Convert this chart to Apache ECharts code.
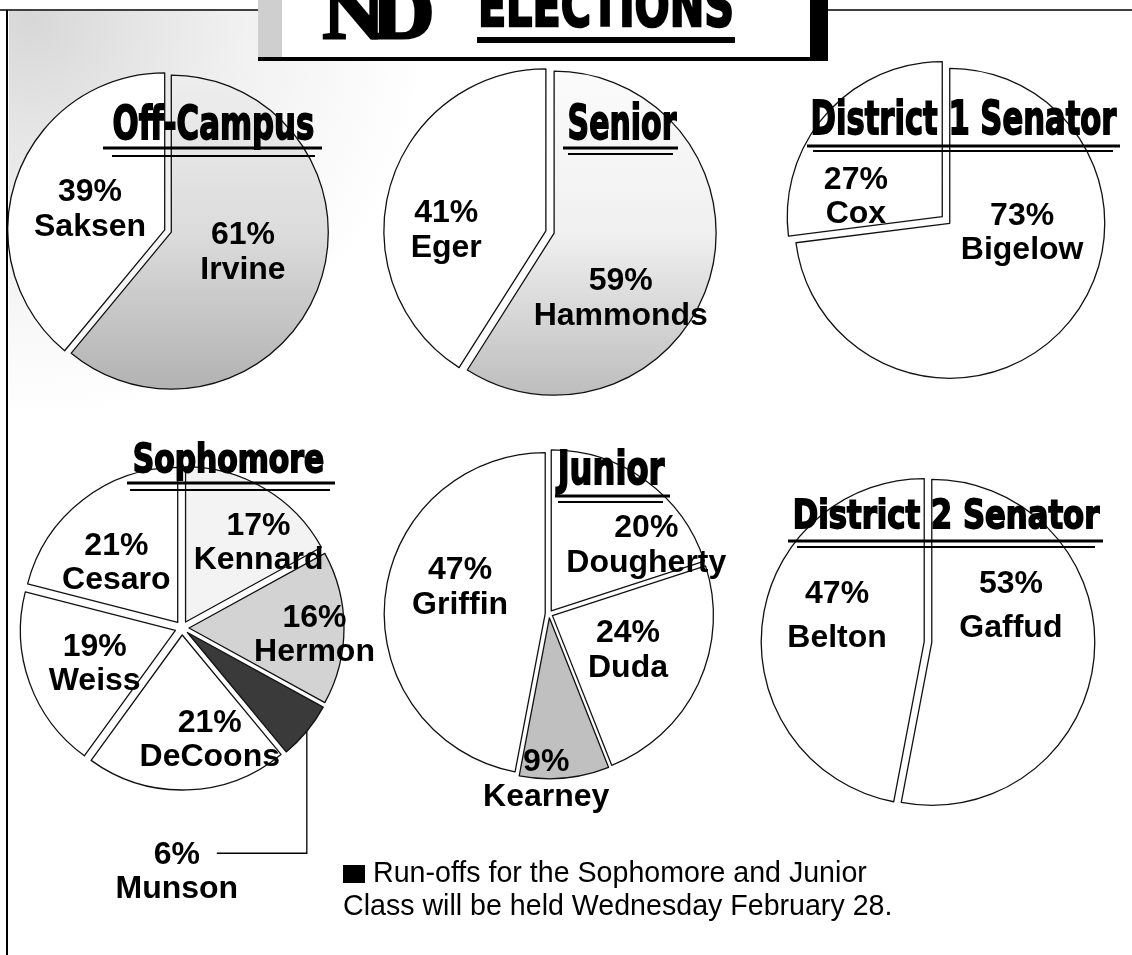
<!DOCTYPE html>
<html><head><meta charset="utf-8">
<script src="https://cdn.jsdelivr.net/npm/echarts@6/dist/echarts.min.js"></script>
<style>html,body{margin:0;padding:0;background:#fff}#c{width:1132px;height:955px}</style>
</head><body><div id="c"></div>
<script>
// ---------------- data ----------------
const offCampusNames = ['Irvine', 'Saksen'];
const offCampusValues = [61, 39];
const seniorNames = ['Hammonds', 'Eger'];
const seniorValues = [59, 41];
const district1Names = ['Bigelow', 'Cox'];
const district1Values = [73, 27];
const sophomoreNames = ['Kennard', 'Hermon', 'Munson', 'DeCoons', 'Weiss', 'Cesaro'];
const sophomoreValues = [17, 16, 6, 21, 19, 21];
const juniorNames = ['Dougherty', 'Duda', 'Kearney', 'Griffin'];
const juniorValues = [20, 24, 9, 47];
const district2Names = ['Gaffud', 'Belton'];
const district2Values = [53, 47];
const raceTitles = ['Off-Campus', 'Senior', 'District 1 Senator', 'Sophomore', 'Junior', 'District 2 Senator'];
const headerTitle = 'ELECTIONS';
const footnoteLines = ['Run-offs for the Sophomore and Junior', 'Class will be held Wednesday February 28.'];

// ---------------- layout / style ----------------
const G = echarts.graphic;
const grayDown = (a, b, c) => new G.LinearGradient(0, 0, 0, 1, [
  {offset: 0, color: a}, {offset: 0.5, color: b}, {offset: 1, color: c}]);

const pieLayout = [
  {center: [168, 231], r: 157, off: 3.5, lh: 35,
   fills: [grayDown('#eeeeee', '#dcdcdc', '#b2b2b2'), '#ffffff'], nudge: [[-5, -7], [2, 7]]},
  {center: [550, 232], r: 162, off: 4.3, lh: 35,
   fills: [grayDown('#fbfbfb', '#f0f0f0', '#bdbdbd'), '#ffffff'], nudge: [[-14, 42], [-19, 23]]},
  {center: [946, 220], r: 155, off: 5, lh: 34,
   fills: ['#ffffff', '#ffffff'], nudge: [[12, -43], [-26, 34]]},
  {center: [182, 628], r: 155, off: 7, lh: 34,
   fills: ['#f3f3f3', '#d3d3d3', '#3a3a3a', '#ffffff', '#ffffff', '#ffffff'],
   nudge: [[32, -10], [45, 7], null, [25, 25], [-5, 7], [-12, 4]]},
  {center: [549, 614], r: 161, off: 3.8, lh: 35,
   fills: ['#ffffff', '#ffffff', '#c0c0c0', '#ffffff'], nudge: [[46, 2], [0, 0], [-11, 79], [-2, -18]]},
  {center: [928, 642], r: 163, off: 3.8, lh: 44,
   fills: ['#ffffff', '#ffffff'], nudge: [[-5, -44], [-3, -18]]}
];
// outside label (Munson): offset of label centre from the slice tip
const outsideLabelShift = [-130, 141];

const titleLayout = [
  {x0: 112, x1: 315, top: 110, base: 145, u1: [103, 322, 148], u2: [112, 315, 156]},
  {x0: 567, x1: 677, top: 108, base: 145, u1: [563, 678, 148], u2: [568, 673, 154]},
  {x0: 810, x1: 1117, top: 105, base: 140, u1: [807, 1120, 146], u2: [813, 1113, 151]},
  {x0: 132, x1: 325, top: 447, base: 477, u1: [127, 335, 483], u2: [130, 330, 490]},
  {x0: 557, x1: 665, top: 455, base: 490, u1: [555, 670, 496], u2: [558, 663, 502]},
  {x0: 792, x1: 1100, top: 503, base: 533, u1: [788, 1103, 541], u2: [797, 1095, 547]}
];

const labelFont = 'Liberation Sans, Arial, Helvetica, sans-serif';
const mctx = document.createElement('canvas').getContext('2d');
function measure(text, font) { mctx.font = font; return mctx.measureText(text).width; }

function squeezedText(text, x0, x1, top, base, family, capRatio, z, strokeW) {
  const sw = strokeW || 0;
  const size = (base - top - sw) / capRatio;
  const font = 'bold ' + size.toFixed(1) + 'px ' + family;
  const w = measure(text, font) + sw;
  const st = {text: text, font: font, fill: '#000', align: 'left', verticalAlign: 'middle',
              textAlign: 'left', textVerticalAlign: 'middle'};
  if (sw) { st.stroke = '#000'; st.lineWidth = sw; st.lineJoin = 'miter'; }
  return {type: 'text', z: z || 100, x: x0 + sw / 2 * (x1 - x0) / w, y: (top + base) / 2,
          scaleX: (x1 - x0) / w, style: st};
}
function hline(x0, x1, y, w, z) {
  return {type: 'line', z: z || 100, shape: {x1: x0, y1: y, x2: x1, y2: y}, style: {stroke: '#000', lineWidth: w}};
}

const pieSources = [
  [offCampusNames, offCampusValues], [seniorNames, seniorValues], [district1Names, district1Values],
  [sophomoreNames, sophomoreValues], [juniorNames, juniorValues], [district2Names, district2Values]
];

function labelLayoutFn(p) {
  const L = pieLayout[p.seriesIndex];
  const n = L.nudge[p.dataIndex];
  if (n) return {dx: n[0], dy: n[1]};
  // outside label with elbow leader (Munson)
  let s = p.labelLinePoints && p.labelLinePoints[0];
  if (!s) {
    const vals = pieSources[p.seriesIndex][1];
    const tot = vals.reduce((a, b) => a + b, 0);
    let cum = 0; for (let i = 0; i < p.dataIndex; i++) cum += vals[i];
    const mid = (cum + vals[p.dataIndex] / 2) / tot * 2 * Math.PI;
    s = [L.center[0] + (L.r + L.off) * Math.sin(mid), L.center[1] - (L.r + L.off) * Math.cos(mid)];
  }
  const want = [s[0] + outsideLabelShift[0], s[1] + outsideLabelShift[1]];
  const r = p.labelRect;
  return {dx: want[0] - r.x, dy: want[1] - (r.y + r.height / 2), align: 'center', verticalAlign: 'middle',
          labelLinePoints: [[s[0], s[1]], [s[0], want[1] - 19], [want[0] + 40, want[1] - 19]]};
}

function makeSeries(idx) {
  const L = pieLayout[idx];
  const names = pieSources[idx][0], values = pieSources[idx][1];
  return {
    type: 'pie', center: L.center, radius: L.r, startAngle: 90, clockwise: true,
    selectedMode: 'multiple', selectedOffset: L.off, avoidLabelOverlap: false,
    animation: false, silent: true, z: 2,
    itemStyle: {borderColor: '#111', borderWidth: 1.3},
    select: {itemStyle: {borderColor: '#111', borderWidth: 1.3}},
    emphasis: {disabled: true, scale: false},
    label: {show: true, position: 'inside', formatter: '{c}%\n{b}', color: '#000',
            fontFamily: labelFont, fontWeight: 'bold', fontSize: 32, lineHeight: L.lh},
    labelLine: {show: false},
    labelLayout: labelLayoutFn,
    data: names.map((nm, i) => {
      const d = {name: nm, value: values[i], selected: true, itemStyle: {color: L.fills[i]}};
      if (!L.nudge[i]) {
        d.label = {position: 'outside'};
        d.labelLine = {show: true, length: 5, length2: 5, lineStyle: {color: '#000', width: 1.3}};
      }
      return d;
    })
  };
}

// ---------------- graphics ----------------
const graphics = [];
graphics.push({type: 'rect', z: -10, shape: {x: 9, y: 11, width: 420, height: 470},
  style: {fill: new G.RadialGradient(0.05, 0.02, 0.95, [
    {offset: 0, color: 'rgba(150,150,150,0.38)'}, {offset: 0.55, color: 'rgba(170,170,170,0.16)'},
    {offset: 1, color: 'rgba(170,170,170,0)'}])}});
graphics.push(hline(0, 260, 10, 1.5, 90));
graphics.push(hline(826, 1132, 10, 1.5, 90));
graphics.push({type: 'line', z: 90, shape: {x1: 7, y1: 10, x2: 7, y2: 955}, style: {stroke: '#000', lineWidth: 2}});
graphics.push({type: 'rect', z: 95, shape: {x: 258, y: 0, width: 24, height: 57}, style: {fill: '#cfcfcf'}});
graphics.push({type: 'rect', z: 95, shape: {x: 282, y: 0, width: 528, height: 57}, style: {fill: '#ffffff'}});
graphics.push({type: 'rect', z: 96, shape: {x: 258, y: 57, width: 570, height: 4}, style: {fill: '#000'}});
graphics.push({type: 'rect', z: 96, shape: {x: 810, y: 0, width: 18, height: 61}, style: {fill: '#000'}});
graphics.push(squeezedText('N', 321, 386, -10, 45, '"Liberation Serif", serif', 0.66, 97, 3));
graphics.push(squeezedText('D', 370, 436, -10, 45, '"Liberation Serif", serif', 0.66, 97, 3));
graphics.push(squeezedText(headerTitle, 477, 735, -12, 33, '"DejaVu Sans", sans-serif', 0.729, 97, 2.5));
graphics.push({type: 'rect', z: 97, shape: {x: 477, y: 37, width: 258, height: 6}, style: {fill: '#000'}});
raceTitles.forEach((t, i) => {
  const T = titleLayout[i];
  graphics.push(squeezedText(t, T.x0, T.x1, T.top, T.base, '"DejaVu Sans", sans-serif', 0.729, 100, 1.8));
  graphics.push(hline(T.u1[0], T.u1[1], T.u1[2], 3, 100));
  graphics.push(hline(T.u2[0], T.u2[1], T.u2[2], 2, 100));
});
graphics.push({type: 'rect', z: 100, shape: {x: 343, y: 865, width: 22, height: 18}, style: {fill: '#000'}});
graphics.push({type: 'text', z: 100, x: 373, y: 874,
  style: {text: footnoteLines[0], font: '28.6px ' + labelFont, fill: '#000', align: 'left', verticalAlign: 'middle',
          textAlign: 'left', textVerticalAlign: 'middle'}});
graphics.push({type: 'text', z: 100, x: 343, y: 907,
  style: {text: footnoteLines[1], font: '28.6px ' + labelFont, fill: '#000', align: 'left', verticalAlign: 'middle',
          textAlign: 'left', textVerticalAlign: 'middle'}});

const chart = echarts.init(document.getElementById('c'), null, {renderer: 'canvas'});
chart.setOption({
  animation: false,
  backgroundColor: '#ffffff',
  series: pieLayout.map((_, i) => makeSeries(i)),
  graphic: {elements: graphics}
});
</script>
</body></html>
